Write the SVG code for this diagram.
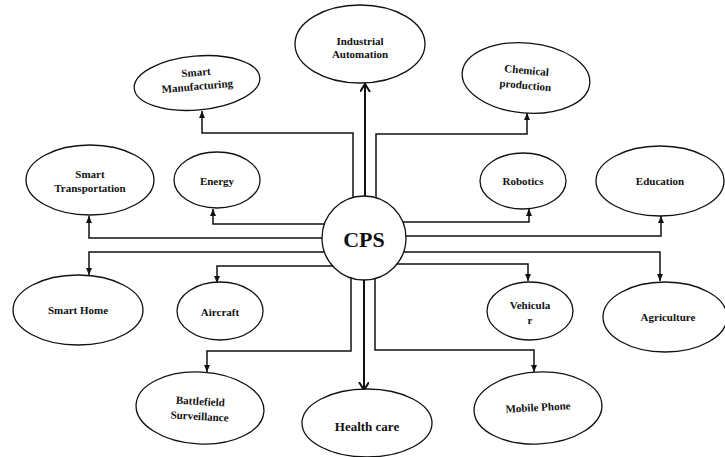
<svg xmlns="http://www.w3.org/2000/svg" width="725" height="457" viewBox="0 0 725 457">
<defs>
<marker id="ah" markerUnits="userSpaceOnUse" markerWidth="8" markerHeight="8" refX="7" refY="3" orient="auto">
<path d="M0,0 L7,3 L0,6 z" fill="#111"/>
</marker>
<marker id="ao" markerUnits="userSpaceOnUse" markerWidth="10" markerHeight="12" refX="8" refY="5" orient="auto">
<path d="M0,0 L8,5 L0,10" fill="none" stroke="#111" stroke-width="2"/>
</marker>
</defs>
<style>
.c{fill:none;stroke:#111;stroke-width:1.5}
.t{fill:none;stroke:#111;stroke-width:2}
.n ellipse{fill:#fff;stroke:#111;stroke-width:1.3}
.n text{font-family:"Liberation Serif","Times New Roman",serif;font-weight:bold;font-size:11px;fill:#111;text-anchor:middle}
</style>
<rect width="725" height="457" fill="#fff"/>
<g id="connectors">
<path class="c" d="M353 238 V133 H202 V111" marker-end="url(#ah)"/>
<path class="t" d="M365 238 V84" marker-end="url(#ao)"/>
<path class="c" d="M376 238 V134 H527 V113" marker-end="url(#ah)"/>
<path class="c" d="M364 224 H213 V209" marker-end="url(#ah)"/>
<path class="c" d="M364 238 H89 V216" marker-end="url(#ah)"/>
<path class="c" d="M364 252 H89 V275" marker-end="url(#ah)"/>
<path class="c" d="M364 266 H217 V283" marker-end="url(#ah)"/>
<path class="c" d="M351 238 V351 H207 V372" marker-end="url(#ah)"/>
<path class="t" d="M364 238 V390" marker-end="url(#ao)"/>
<path class="c" d="M375 238 V350 H534 V372" marker-end="url(#ah)"/>
<path class="c" d="M364 222 H529 V209" marker-end="url(#ah)"/>
<path class="c" d="M364 236 H661 V216" marker-end="url(#ah)"/>
<path class="c" d="M364 252 H660 V281" marker-end="url(#ah)"/>
<path class="c" d="M364 264 H528 V281" marker-end="url(#ah)"/>
</g>
<g id="cps" class="n">
<circle cx="364" cy="238" r="42" fill="#fff" stroke="#111" stroke-width="1.3"/>
<text x="364" y="247" style="font-size:22px">CPS</text>
</g>
<g id="smart-manufacturing" class="n" transform="rotate(-5 197 83)">
<ellipse cx="197" cy="83" rx="63" ry="27"/>
<text x="197" y="76">Smart</text>
<text x="197" y="90">Manufacturing</text>
</g>
<g id="industrial-automation" class="n">
<ellipse cx="360" cy="44" rx="65" ry="39"/>
<text x="360" y="45">Industrial</text>
<text x="360" y="58">Automation</text>
</g>
<g id="chemical-production" class="n" transform="rotate(5 526 78)">
<ellipse cx="526" cy="78" rx="64" ry="35"/>
<text x="526" y="74">Chemical</text>
<text x="526" y="89">production</text>
</g>
<g id="smart-transportation" class="n">
<ellipse cx="90" cy="180" rx="64" ry="35"/>
<text x="90" y="178">Smart</text>
<text x="90" y="192">Transportation</text>
</g>
<g id="energy" class="n">
<ellipse cx="217" cy="180" rx="43" ry="28"/>
<text x="217" y="185">Energy</text>
</g>
<g id="robotics" class="n">
<ellipse cx="523" cy="181" rx="43" ry="28"/>
<text x="523" y="185">Robotics</text>
</g>
<g id="education" class="n">
<ellipse cx="660" cy="181" rx="64" ry="35"/>
<text x="660" y="185">Education</text>
</g>
<g id="smart-home" class="n">
<ellipse cx="78" cy="310" rx="65" ry="35"/>
<text x="78" y="314">Smart Home</text>
</g>
<g id="aircraft" class="n">
<ellipse cx="220" cy="311" rx="43" ry="29"/>
<text x="220" y="316">Aircraft</text>
</g>
<g id="vehicular" class="n">
<ellipse cx="530" cy="311" rx="43" ry="29"/>
<text x="530" y="309">Vehicula</text>
<text x="530" y="324">r</text>
</g>
<g id="agriculture" class="n">
<ellipse cx="665" cy="317" rx="62" ry="35"/>
<text x="668" y="321">Agriculture</text>
</g>
<g id="battlefield-surveillance" class="n" transform="rotate(3 200 408)">
<ellipse cx="200" cy="408" rx="64" ry="36"/>
<text x="200" y="405">Battlefield</text>
<text x="200" y="420">Surveillance</text>
</g>
<g id="health-care" class="n">
<ellipse cx="367" cy="423" rx="65" ry="34"/>
<text x="367" y="431" style="font-size:13px">Health care</text>
</g>
<g id="mobile-phone" class="n" transform="rotate(-3 538 408)">
<ellipse cx="538" cy="408" rx="64" ry="36"/>
<text x="538" y="411">Mobile Phone</text>
</g>
</svg>
